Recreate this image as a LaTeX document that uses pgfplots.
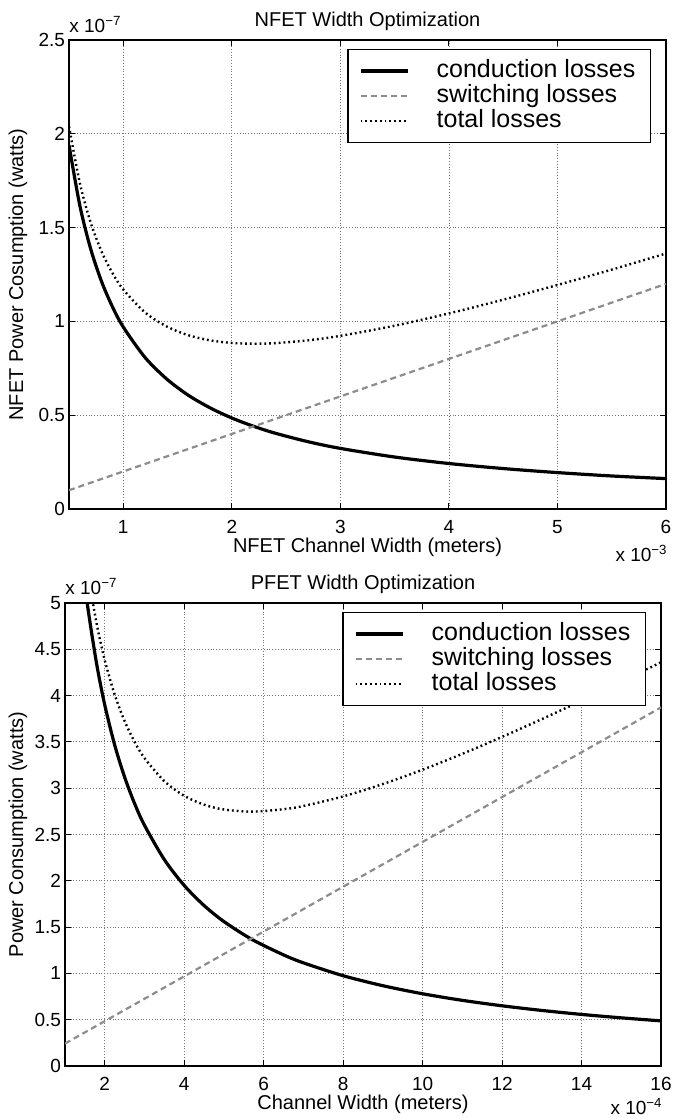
\documentclass[border=0pt]{standalone}
\usepackage{fontspec}
\setmainfont{Liberation Sans}
\usepackage{pgfplots}
\pgfplotsset{compat=1.18}

% MATLAB-like look shared by both panels
\pgfplotsset{
  matlab/.style={
    scale only axis,
    clip mode=individual,
    axis line style={black, line width=0.6pt},
    tick align=inside,
    xticklabel pos=lower, yticklabel pos=left,
    xtick pos=both, ytick pos=both,
    major tick length=3pt,
    tick style={black, line width=0.5pt},
    grid=major,
    grid style={densely dotted, black!55, line width=0.4pt},
    /pgf/number format/assume math mode=true,
    tick label style={font=\fontsize{9.5}{11}\selectfont},
    xticklabel style={yshift=-2pt},
    yticklabel style={xshift=1.5pt},
    label style={font=\fontsize{10}{12}\selectfont},
    xlabel style={at={(axis description cs:0.5,0)}, anchor=center, yshift=-19pt},
    title style={font=\fontsize{10}{12}\selectfont,
      at={(axis description cs:0.5,1)}, anchor=center, yshift=3.5pt},
    legend cell align=left,
    legend style={at={(1,1)}, anchor=north east, xshift=-7.5pt, yshift=-4.5pt,
      draw=black, line width=0.6pt, fill=white,
      font=\fontsize{12.5}{13}\selectfont, inner xsep=5.5pt, inner ysep=4.5pt,
      nodes={inner ysep=0pt, inner xsep=2pt, text height=9.3pt, text depth=3.2pt}},
    legend image code/.code={
      \draw[#1] (0pt,0pt) -- (23.5pt,0pt);
      \path[draw=none] (0pt,0pt) -- (36pt,0pt);},
  },
  cond/.style={black, line width=1.6pt, smooth},
  swit/.style={black!45, line width=1.1pt, dash pattern=on 3pt off 2pt},
  tot/.style={black, line width=1.2pt, dash pattern=on 0.9pt off 1.5pt, smooth},
}

\begin{document}
\begin{tikzpicture}
\path[use as bounding box] (0,0) rectangle (336.5pt,559.5pt);

% ---------------- NFET ----------------
\begin{axis}[
  matlab,
  at={(34.5pt,305pt)}, anchor=south west,
  width=298.5pt, height=234.5pt,
  xmin=0.5, xmax=6, ymin=0, ymax=2.5,
  xtick={1,2,3,4,5,6},
  ytick={0,0.5,1,1.5,2,2.5},
  title={NFET Width Optimization},
  xlabel={NFET Channel Width (meters)},
  ylabel={NFET Power Cosumption (watts)},
  ylabel style={at={(axis description cs:-0.0854,0.5)}, anchor=center},
]
\addplot[cond] coordinates {
 (0.5,1.94) (0.6,1.617) (0.7,1.386) (0.8,1.2125) (0.9,1.078) (1.0,0.97)
 (1.2,0.808) (1.4,0.693) (1.6,0.606) (1.8,0.539) (2.0,0.485) (2.2,0.441)
 (2.4,0.404) (2.7,0.359) (3.0,0.323) (3.5,0.277) (4.0,0.2425) (4.5,0.2156)
 (5.0,0.194) (5.5,0.176) (6.0,0.162)};
\addplot[swit] coordinates {(0.5,0.1) (6.0,1.2)};
\addplot[tot] coordinates {
 (0.5,2.04) (0.6,1.737) (0.7,1.526) (0.8,1.3725) (0.9,1.258) (1.0,1.17)
 (1.2,1.048) (1.4,0.973) (1.6,0.926) (1.8,0.899) (2.0,0.885) (2.2,0.881)
 (2.4,0.884) (2.7,0.899) (3.0,0.923) (3.5,0.977) (4.0,1.0425) (4.5,1.1156)
 (5.0,1.194) (5.5,1.276) (6.0,1.362)};
\legend{conduction losses, switching losses, total losses}
\node[anchor=base west, font=\fontsize{9.5}{11}\selectfont, inner sep=0pt]
  at (rel axis cs:0,1) [yshift=3.5pt] {x 10\textsuperscript{\char"2212 7}};
\node[anchor=base east, font=\fontsize{9.5}{11}\selectfont, inner sep=0pt]
  at (rel axis cs:1,0) [yshift=-26.5pt, xshift=1pt] {x 10\textsuperscript{\char"2212 3}};
\end{axis}

% ---------------- PFET ----------------
\begin{axis}[
  matlab,
  at={(32.5pt,26.5pt)}, anchor=south west,
  width=298pt, height=231.5pt,
  xmin=1, xmax=16, ymin=0, ymax=5,
  xtick={2,4,6,8,10,12,14,16},
  ytick={0,0.5,1,1.5,2,2.5,3,3.5,4,4.5,5},
  title={PFET Width Optimization},
  xlabel={Channel Width (meters)},
  ylabel={Power Consumption (watts)},
  ylabel style={at={(axis description cs:-0.0789,0.5)}, anchor=center},
]
\addplot[cond] coordinates {
 (1.4,5.571) (1.5,5.2) (1.6,4.875) (1.8,4.333) (2.0,3.9) (2.25,3.467)
 (2.5,3.12) (2.75,2.836) (3.0,2.6) (3.5,2.229) (4.0,1.95) (4.5,1.733)
 (5.0,1.56) (5.7,1.368) (6.5,1.2) (7.0,1.114) (8.0,0.975) (9.0,0.867)
 (10,0.78) (11,0.709) (12,0.65) (13,0.6) (14,0.557) (15,0.52) (16,0.4875)};
\addplot[swit] coordinates {(1,0.242) (16,3.872)};
\addplot[tot] coordinates {
 (1.4,5.91) (1.5,5.563) (1.6,5.262) (1.8,4.769) (2.0,4.384) (2.25,4.011)
 (2.5,3.725) (2.75,3.502) (3.0,3.326) (3.5,3.076) (4.0,2.918) (4.5,2.822)
 (5.0,2.77) (5.7,2.747) (6.5,2.773) (7.0,2.808) (8.0,2.911) (9.0,3.045)
 (10,3.2) (11,3.371) (12,3.554) (13,3.746) (14,3.945) (15,4.15) (16,4.36)};
\legend{conduction losses, switching losses, total losses}
\node[anchor=base west, font=\fontsize{9.5}{11}\selectfont, inner sep=0pt]
  at (rel axis cs:0,1) [yshift=4pt] {x 10\textsuperscript{\char"2212 7}};
\node[anchor=base east, font=\fontsize{9.5}{11}\selectfont, inner sep=0pt]
  at (rel axis cs:1,0) [yshift=-24.5pt, xshift=1pt] {x 10\textsuperscript{\char"2212 4}};
\end{axis}
\end{tikzpicture}
\end{document}
